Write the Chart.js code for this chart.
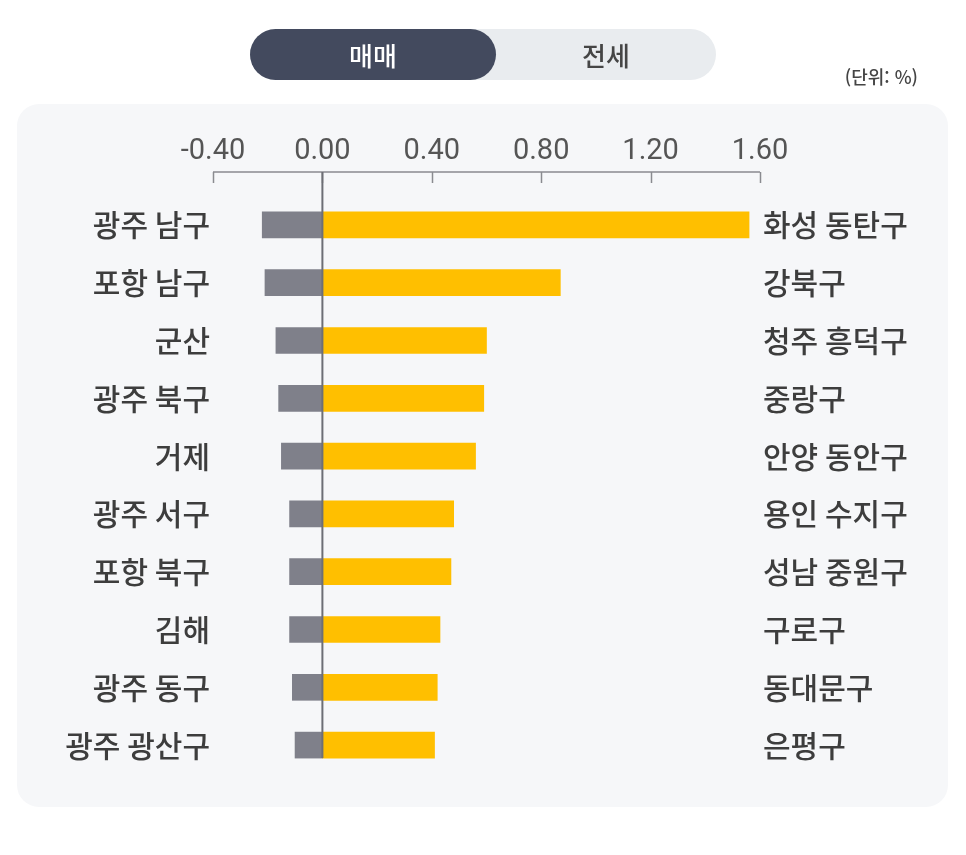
<!DOCTYPE html>
<html lang="ko">
<head>
<meta charset="utf-8">
<script src="https://cdn.jsdelivr.net/npm/chart.js@4.4.1/dist/chart.umd.min.js"></script>
<style>
  html, body { margin: 0; padding: 0; background: #ffffff; }
  #wrap { position: relative; width: 966px; height: 855px; overflow: hidden; }
  #panel { position: absolute; left: 17px; top: 104px; width: 931px; height: 703px; background: #f6f7f9; border-radius: 22px; }
  #toggle { position: absolute; left: 250px; top: 29px; width: 466px; height: 51px; border-radius: 26px; background: #e9ecef; z-index: 2; }
  #toggle .on { position: absolute; left: 0; top: 0; width: 246px; height: 51px; border-radius: 26px; background: #434a5e; color: #ffffff; }
  #toggle .off { position: absolute; left: 246px; top: 0; width: 220px; height: 51px; color: #454545; }
  #toggle div { font-family: 'Noto Sans CJK KR', sans-serif; font-size: 26px; line-height: 51px; text-align: center; font-weight: 500; }
  #unit { position: absolute; right: 48px; top: 63px; font-family: 'Noto Sans CJK KR', sans-serif; font-size: 18px; font-weight: 500; color: #444; z-index: 2; }
  canvas { position: absolute; left: 0; top: 0; z-index: 1; }
</style>
</head>
<body>
<div id="wrap">
  <div id="panel"></div>
  <div id="toggle"><div class="on">매매</div><div class="off">전세</div></div>
  <div id="unit">(단위: %)</div>
  <canvas id="c" width="966" height="855"></canvas>
</div>
<script>
const leftLabels = ['광주 남구', '포항 남구', '군산', '광주 북구', '거제', '광주 서구', '포항 북구', '김해', '광주 동구', '광주 광산구'];
const rightLabels = ['화성 동탄구', '강북구', '청주 흥덕구', '중랑구', '안양 동안구', '용인 수지구', '성남 중원구', '구로구', '동대문구', '은평구'];
const fallValues = [-0.22, -0.21, -0.17, -0.16, -0.15, -0.12, -0.12, -0.12, -0.11, -0.10];
const riseValues = [1.56, 0.87, 0.60, 0.59, 0.56, 0.48, 0.47, 0.43, 0.42, 0.41];
const xTickValues = [-0.4, 0.0, 0.4, 0.8, 1.2, 1.6];

const labelFont = { family: "'Noto Sans CJK KR', sans-serif", size: 30, weight: '500' };

const axisDecor = {
  id: 'axisDecor',
  afterDatasetsDraw(chart) {
    const { ctx, scales: { x, y } } = chart;
    const lineY = x.bottom - 24;
    ctx.save();
    ctx.strokeStyle = '#8a8b90';
    ctx.lineWidth = 1.5;
    ctx.beginPath();
    ctx.moveTo(x.left, lineY);
    ctx.lineTo(x.right, lineY);
    x.ticks.forEach(t => {
      const px = Math.round(x.getPixelForValue(t.value)) + 0.5;
      ctx.moveTo(px, lineY);
      ctx.lineTo(px, lineY + 11);
    });
    ctx.stroke();
    const zx = x.getPixelForValue(0);
    const lastY = y.getPixelForValue(leftLabels.length - 1) + 13;
    ctx.strokeStyle = '#6d6e75';
    ctx.lineWidth = 2;
    ctx.beginPath();
    ctx.moveTo(zx, lineY);
    ctx.lineTo(zx, lastY);
    ctx.stroke();
    ctx.restore();
  }
};

new Chart(document.getElementById('c'), {
  type: 'bar',
  data: {
    labels: leftLabels,
    datasets: [
      { data: fallValues, backgroundColor: '#7f808a', barThickness: 26, yAxisID: 'y' },
      { data: riseValues, backgroundColor: '#ffbf00', barThickness: 26, yAxisID: 'y' }
    ]
  },
  options: {
    indexAxis: 'y',
    responsive: false,
    animation: false,
    layout: { padding: { left: 0, right: 0, top: 0, bottom: 81 } },
    plugins: { legend: { display: false }, tooltip: { enabled: false } },
    scales: {
      x: {
        position: 'top',
        stacked: true,
        min: -0.4,
        max: 1.6,
        afterBuildTicks: s => { s.ticks = xTickValues.map(v => ({ value: v })); },
        afterFit: s => { s.height = 196; },
        grid: { display: false, drawTicks: false },
        border: { display: false },
        ticks: {
          padding: 27,
          color: '#555555',
          font: { family: 'Roboto, sans-serif', size: 29, weight: '400' },
          callback: v => Number(v).toFixed(2)
        }
      },
      y: {
        position: 'left',
        stacked: true,
        afterFit: s => { s.width = 213; },
        grid: { display: false, drawTicks: false },
        border: { display: false },
        ticks: { padding: 3, color: '#3d3d3d', font: labelFont }
      },
      yRight: {
        type: 'category',
        position: 'right',
        labels: rightLabels,
        offset: true,
        afterFit: s => { s.width = 206; },
        grid: { display: false, drawTicks: false },
        border: { display: false },
        ticks: { padding: 3, color: '#3d3d3d', font: labelFont }
      }
    }
  },
  plugins: [axisDecor]
});
</script>
</body>
</html>
